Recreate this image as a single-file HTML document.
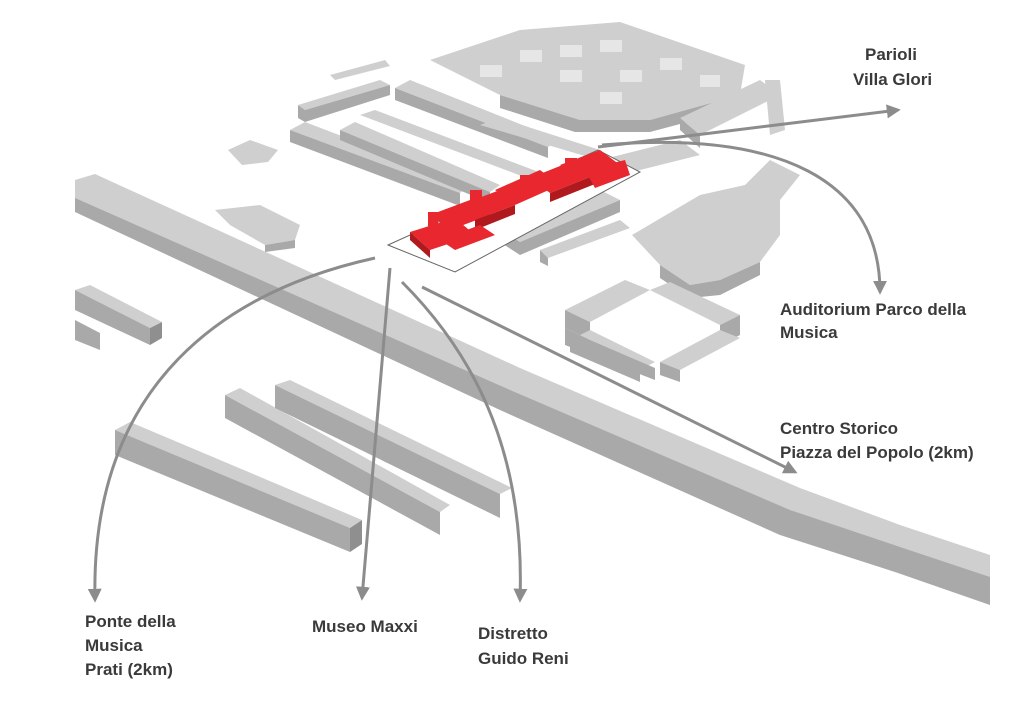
<!DOCTYPE html>
<html><head><meta charset="utf-8"><style>
html,body{margin:0;padding:0;background:#fff;width:1024px;height:705px;overflow:hidden}
svg{display:block}
text{font-family:"Liberation Sans Narrow","Liberation Sans",sans-serif;font-weight:bold;font-size:17px;fill:#3a3a3a}
.t{fill:#cfcfcf}.s{fill:#a9a9a9}.d{fill:#8f8f8f}
.r{fill:#e8282e}.rd{fill:#b01a1e}
.a{fill:none;stroke:#8c8c8c;stroke-width:3}
</style></head><body>
<svg width="1024" height="705" viewBox="0 0 1024 705">
<defs>
<marker id="h" viewBox="0 0 10 10" refX="8" refY="5" markerWidth="14" markerHeight="14" markerUnits="userSpaceOnUse" orient="auto"><path d="M0,0 L10,5 L0,10z" fill="#8c8c8c"/></marker></defs>

<!-- highway -->
<polygon class="s" points="75,196 510,388 790,508 900,545 990,575 990,605 895,572 780,535 500,410 75,212"/>
<polygon class="t" points="75,180 95,174 520,368 800,488 900,525 990,555 990,577 900,547 790,510 510,390 75,198"/>
<!-- left small block -->
<polygon class="t" points="75,290 90,285 162,322 150,328"/>
<polygon class="s" points="75,290 150,328 150,345 75,310"/>
<polygon class="d" points="150,328 162,322 162,338 150,345"/>
<polygon class="s" points="75,320 100,333 100,350 75,340"/>
<!-- curved buildings -->
<polygon class="t" points="225,395 240,388 450,505 440,512"/>
<polygon class="s" points="225,395 440,512 440,535 225,418"/>
<polygon class="t" points="275,385 290,380 512,488 500,494"/>
<polygon class="s" points="275,385 500,494 500,518 275,408"/>
<polygon class="t" points="115,430 130,422 362,520 350,528"/>
<polygon class="s" points="115,430 350,528 350,552 115,455"/>
<polygon class="d" points="350,528 362,520 362,544 350,552"/>
<!-- top grid complex -->
<polygon class="t" points="430,60 520,30 620,22 745,65 740,95 650,120 580,120 500,95"/>
<polygon class="s" points="500,95 580,120 650,120 740,95 740,108 650,132 575,132 500,108"/>
<g fill="#e6e6e6"><rect x="520" y="50" width="22" height="12"/><rect x="560" y="45" width="22" height="12"/><rect x="600" y="40" width="22" height="12"/><rect x="560" y="70" width="22" height="12"/><rect x="620" y="70" width="22" height="12"/><rect x="660" y="58" width="22" height="12"/><rect x="600" y="92" width="22" height="12"/><rect x="480" y="65" width="22" height="12"/><rect x="700" y="75" width="20" height="12"/></g>
<!-- rows of blocks top-left -->
<polygon class="t" points="298,105 380,80 390,85 305,110"/><polygon class="s" points="298,105 305,110 305,122 298,118"/><polygon class="s" points="305,110 390,85 390,95 305,122"/>
<polygon class="t" points="330,75 385,60 390,66 335,80"/>
<polygon class="t" points="395,88 410,80 560,140 548,147"/><polygon class="s" points="395,88 548,147 548,158 395,100"/>
<polygon class="t" points="290,130 305,122 470,185 460,193"/><polygon class="s" points="290,130 460,193 460,206 290,142"/>
<polygon class="t" points="340,130 355,122 500,185 490,192"/><polygon class="s" points="340,130 490,192 490,203 340,140"/>
<polygon class="t" points="360,115 375,110 560,180 548,186"/>
<polygon class="t" points="480,125 500,118 600,150 585,156"/>
<polygon class="t" points="228,150 250,140 278,150 268,162 242,165"/>
<polygon class="t" points="215,210 260,205 300,225 295,240 265,245 230,225"/><polygon class="s" points="265,245 295,240 295,248 265,252"/>
<!-- right blocks -->
<polygon class="t" points="680,118 760,80 780,95 700,135"/><polygon class="s" points="680,118 700,135 700,148 680,130"/>
<polygon class="t" points="765,80 780,80 785,130 770,135"/>
<polygon class="t" points="600,160 680,140 700,155 620,175"/>
<polygon class="t" points="500,230 600,190 620,200 520,242"/><polygon class="s" points="500,230 520,242 520,255 500,242"/><polygon class="s" points="520,242 620,200 620,212 520,255"/>
<polygon class="t" points="540,250 620,220 630,228 548,258"/><polygon class="s" points="540,250 548,258 548,266 540,262"/>
<!-- cross complex -->
<polygon class="t" points="632,235 700,195 745,185 770,160 800,175 780,200 780,235 760,262 720,280 690,285 660,265"/>
<polygon class="s" points="660,265 690,285 720,280 760,262 760,275 720,295 690,298 660,278"/>
<!-- square courtyard -->
<polygon class="t" points="565,310 625,280 650,290 590,322"/><polygon class="s" points="565,310 590,322 590,340 565,328"/>
<polygon class="t" points="650,290 670,282 740,315 720,325"/><polygon class="s" points="720,325 740,315 740,335 720,345"/>
<polygon class="t" points="570,340 590,330 655,362 640,370"/><polygon class="s" points="570,340 640,370 640,382 570,352"/>
<polygon class="t" points="660,362 720,330 740,338 680,370"/><polygon class="s" points="660,362 680,370 680,382 660,375"/>
<polygon class="s" points="565,328 590,340 655,368 655,380 565,345"/>
<!-- site plot -->
<polygon fill="#fff" stroke="#666" stroke-width="1" points="388,245 455,272 640,172 598,150"/>
<!-- red cluster -->
<g>
<polygon class="r" points="410,232 455,218 475,235 430,250"/><polygon class="rd" points="410,232 430,250 430,258 410,240"/>
<polygon class="r" points="430,215 470,200 490,215 450,230"/>
<polygon class="r" points="460,205 500,190 515,205 475,220"/><polygon class="rd" points="475,220 515,205 515,214 475,230"/>
<polygon class="r" points="495,190 540,170 560,185 515,205"/>
<polygon class="r" points="530,178 575,160 595,175 550,193"/><polygon class="rd" points="550,193 595,175 595,184 550,202"/>
<polygon class="r" points="560,165 600,150 620,165 580,180"/>
<polygon class="r" points="585,170 625,160 630,175 595,188"/>
<polygon class="r" points="440,240 480,225 495,235 455,250"/>
<rect class="r" x="470" y="190" width="12" height="18"/><rect class="r" x="520" y="175" width="12" height="18"/>
<rect class="r" x="565" y="158" width="12" height="16"/><rect class="r" x="428" y="212" width="10" height="14"/>
</g>
<!-- arrows -->
<path class="a" marker-end="url(#h)" d="M375,258 C230,290 90,380 95,600"/>
<path class="a" marker-end="url(#h)" d="M390,268 L362,598"/>
<path class="a" marker-end="url(#h)" d="M402,282 C480,360 525,460 520,600"/>
<path class="a" marker-end="url(#h)" d="M422,287 L795,472"/>
<path class="a" marker-end="url(#h)" d="M598,147 L898,110"/>
<path class="a" marker-end="url(#h)" d="M602,145 C780,130 880,180 880,292"/>
<!-- labels -->
<text x="865" y="60">Parioli</text>
<text x="853" y="85">Villa Glori</text>
<text x="780" y="315">Auditorium Parco della</text>
<text x="780" y="338">Musica</text>
<text x="780" y="434">Centro Storico</text>
<text x="780" y="458">Piazza del Popolo (2km)</text>
<text x="85" y="627">Ponte della</text>
<text x="85" y="651">Musica</text>
<text x="85" y="675">Prati (2km)</text>
<text x="312" y="632">Museo Maxxi</text>
<text x="478" y="639">Distretto</text>
<text x="478" y="664">Guido Reni</text>
</svg>
</body></html>
